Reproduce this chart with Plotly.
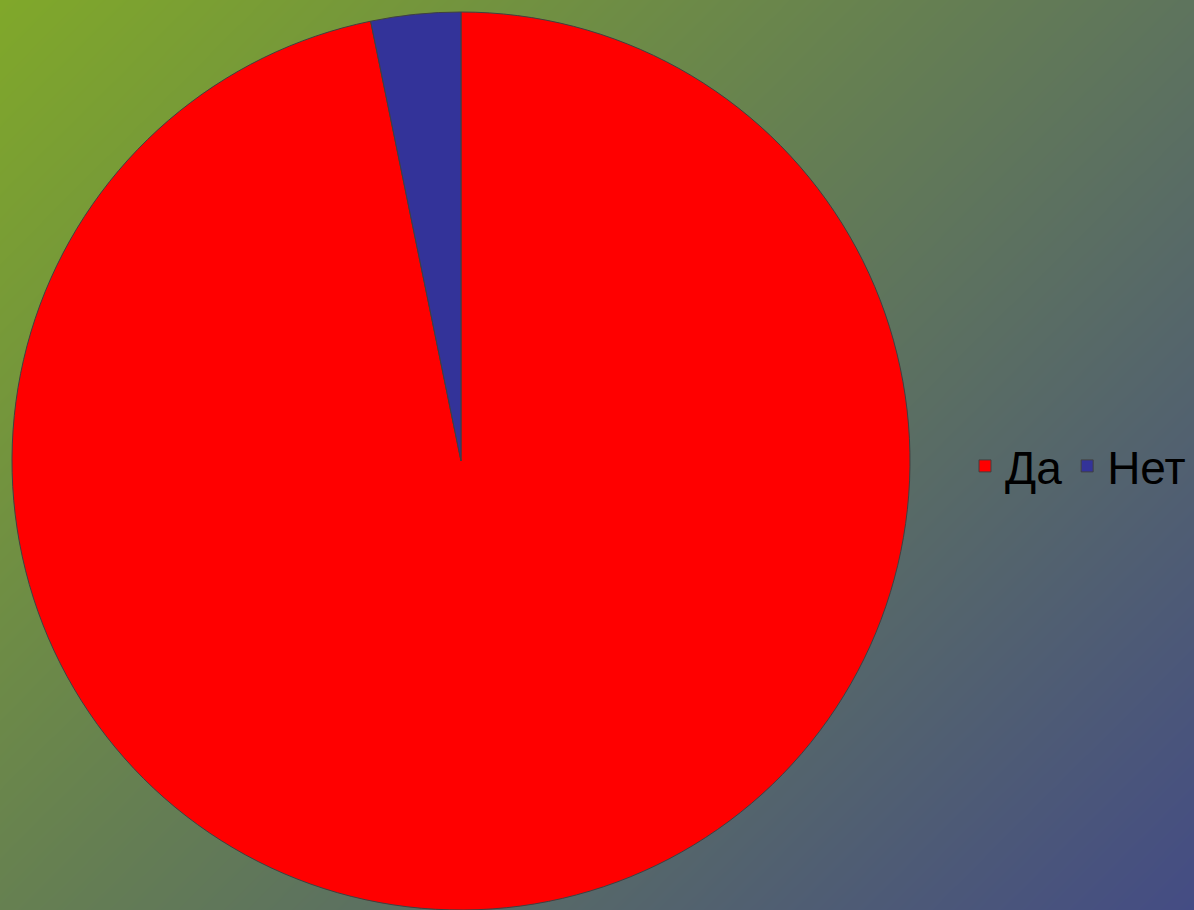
import numpy as np
import plotly.graph_objects as go

# Data
labels = ["Да", "Нет"]
values = [30, 1]
slice_colors = ["#ff0000", "#333399"]

W, H = 1194, 910

# Background gradient (style only)
bg_start = "rgb(128,168,42)"
bg_end = "rgb(68,76,132)"
gx = np.linspace(-20, W + 20, 80)
gy = np.linspace(-20, H + 20, 60)
GX, GY = np.meshgrid(gx, gy)
GZ = GX + GY

fig = go.Figure()
fig.add_trace(go.Heatmap(
    x=gx, y=gy, z=GZ, colorscale=[[0, bg_start], [1, bg_end]],
    zmin=0, zmax=W + H, zsmooth="best", showscale=False, hoverinfo="skip",
    showlegend=False,
))
fig.add_trace(go.Pie(
    labels=labels, values=values, sort=False, direction="clockwise", rotation=0,
    marker=dict(colors=slice_colors, line=dict(color="#404040", width=1)),
    textinfo="none", hoverinfo="label+value",
    domain=dict(x=[12 / W, 910 / W], y=[0, 1 - 12 / H]),
))
fig.update_layout(
    width=W, height=H,
    margin=dict(l=0, r=0, t=0, b=0),
    xaxis=dict(range=[0, W], visible=False, domain=[0, 1], fixedrange=True),
    yaxis=dict(range=[H, 0], visible=False, domain=[0, 1], fixedrange=True),
    paper_bgcolor="rgb(100,120,90)",
    plot_bgcolor="rgba(0,0,0,0)",
    showlegend=True,
    legend=dict(
        orientation="h", x=965 / W, xanchor="left", y=1 - 466 / H, yanchor="middle",
        font=dict(family="Arial, Liberation Sans, sans-serif", size=46, color="#000000"),
        bgcolor="rgba(0,0,0,0)", itemwidth=30, tracegroupgap=0,
    ),
)
fig.write_html(
    "out.html",
    config={"displayModeBar": False},
    post_script="document.body.style.margin='0';document.body.style.overflow='hidden';",
)
